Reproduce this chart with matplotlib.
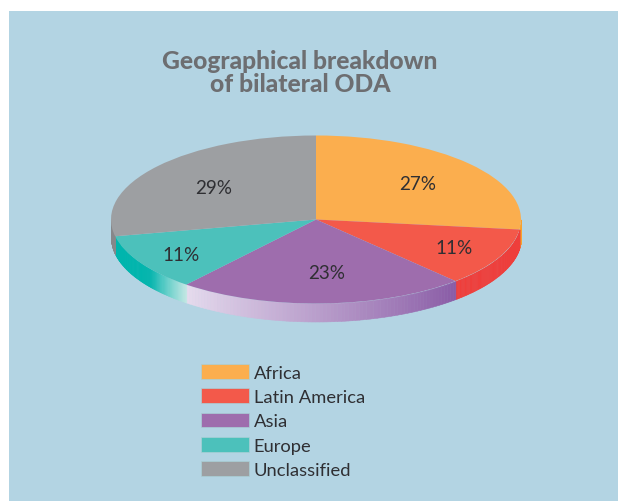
#DECLARE USED LIBRARIES
import numpy as np
import matplotlib
matplotlib.use('Agg')
import matplotlib.pyplot as plt
from matplotlib.colors import to_rgb

W, H = 618, 502

#CHART DATA
categorias = ['Africa', 'Latin America', 'Asia', 'Europe', 'Unclassified']
rotulos = ['27%', '11%', '23%', '11%', '29%']
fatias = [26.9, 11.2, 22.8, 10.9, 28.2]
cores = ['#fbae4e', '#f3594a', '#9e6dad', '#4cc1bb', '#9d9fa2']
titulo = 'Geographical breakdown\nof bilateral ODA'

# wall colours: (start, end) going clockwise around the front of the pie
paredes = [('#f7a22f', '#f7a22f'), ('#ef3e3b', '#ef3e3b'), ('#8a5ca6', '#e6dcee'),
           ('#c4e8e4', '#00b5ad'), ('#86878a', '#86878a')]

#PIE SIZE IN PIXELS
cx, cy, rx, ry, prof = 316, 220.5, 205, 84, 18
rot_x = [418, 454, 327, 181, 214]
rot_y = [184.5, 248.5, 273.5, 255.5, 188.5]

plt.rcParams['font.family'] = ['Lato', 'DejaVu Sans']

fig = plt.figure(figsize=(W / 100, H / 100), dpi=100, facecolor='white')

#BLUE PANEL
fundo = fig.add_axes([9 / W, 0, (W - 9) / W, (H - 12) / H], facecolor='#b3d4e3')
fundo.set_xticks([]), fundo.set_yticks([])
for s in fundo.spines.values():
    s.set_visible(False)

#PIE AXES, THE UNIT CIRCLE IS SQUASHED INTO AN ELLIPSE
d = prof / ry
ax = fig.add_axes([(cx - rx) / W, (H - cy - ry - prof) / H, 2 * rx / W, (2 * ry + prof) / H])
ax.patch.set_alpha(0)

#SIDE WALL
soma = np.cumsum([0] + fatias) / sum(fatias)
for i in range(len(fatias)):
    # only the front half of the wall can be seen
    a = min(90 - 360 * soma[i], 0)
    b = max(90 - 360 * soma[i + 1], -180)
    if a <= b:
        continue
    n = 80
    t = np.radians(np.linspace(a, b, n + 1))
    c0, c1 = np.array(to_rgb(paredes[i][0])), np.array(to_rgb(paredes[i][1]))
    for k in range(n):
        if i == 3:
            # the europe wall turns solid soon after its light end
            f = min(1, k / n / 0.38)
        else:
            f = k / n
        xs = np.cos(t[k:k + 2])
        ys = np.sin(t[k:k + 2])
        ax.fill_between(xs, ys, ys - d, color=c0 + (c1 - c0) * f, lw=0.4)

#TOP FACE
ax.pie(fatias, colors=cores, startangle=90, counterclock=False, radius=1)
ax.set_aspect('auto')
ax.set_xlim(-1, 1)
ax.set_ylim(-1 - d, 1)
ax.axis('off')

#LABELS
for x, y, r in zip(rot_x, rot_y, rotulos):
    fig.text(x / W, 1 - y / H, r, fontsize=13.6, color='#2f2f33', ha='center', va='center')

fig.text(300 / W, 1 - 73 / H, titulo, fontsize=17.7, fontweight=900, color='#6d6e71',
         ha='center', va='center', linespacing=1.05)

#LEGEND
caixas = [plt.Rectangle((0, 0), 1, 1, facecolor=c, edgecolor='#a9cfd6', lw=0.5) for c in cores]
fig.legend(caixas, categorias, loc='upper left', bbox_to_anchor=(201 / W, 1 - 365 / H),
           frameon=False, fontsize=13.2, labelcolor='#2f2f33', handlelength=2.6, handleheight=0.85,
           handletextpad=0.28, labelspacing=0.42, borderaxespad=0, borderpad=0)

fig.savefig('out.png', dpi=100)
